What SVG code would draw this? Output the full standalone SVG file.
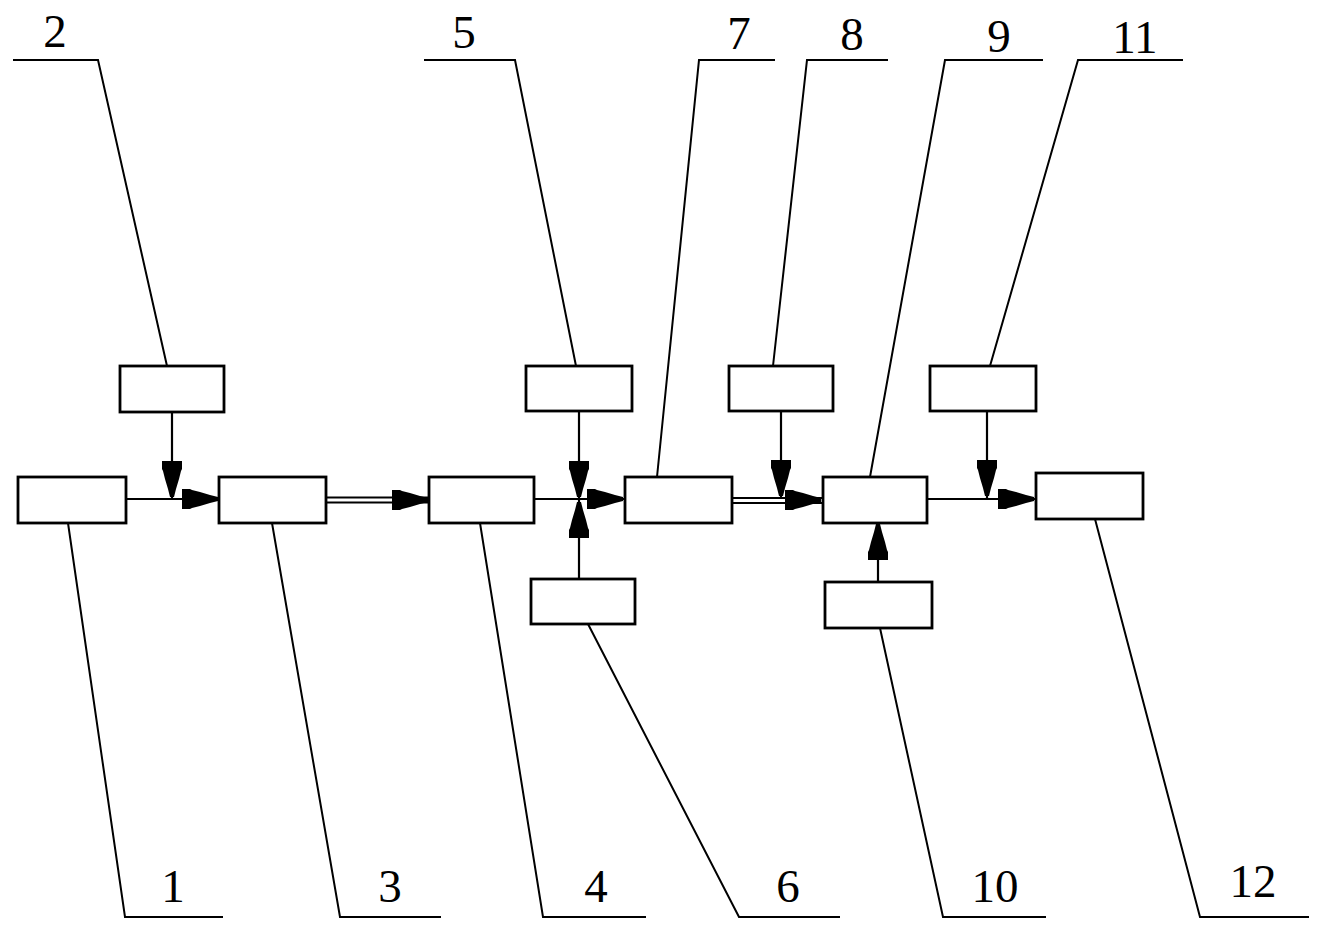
<svg xmlns="http://www.w3.org/2000/svg" xmlns:xlink="http://www.w3.org/1999/xlink" width="1320" height="928" viewBox="0 0 1320 928">
<style>
.box{fill:#fff;stroke:#000;stroke-width:2.8}
.ln{fill:none;stroke:#000;stroke-width:2.2}
.ld{fill:none;stroke:#000;stroke-width:2}
.lbl{font-family:"Liberation Serif","DejaVu Serif",serif;font-size:47px;fill:#000;text-anchor:middle}
</style>
<defs>
<path id="ah" d="M0,-2 L-8,-4 L-18,-7 L-26,-9 L-28,-10 L-36,-10 L-36,10 L-28,10 L-26,9 L-18,7 L-8,4 L0,2 Z" fill="#000"/>
</defs>
<rect width="1320" height="928" fill="#fff"/>
<g id="connectors">
<line class="ln" x1="126" y1="499" x2="219" y2="499"/>
<line class="ln" x1="172" y1="412" x2="172" y2="499"/>
<line class="ln" x1="326" y1="497.5" x2="429" y2="497.5"/>
<line class="ln" x1="326" y1="502.5" x2="429" y2="502.5"/>
<line class="ln" x1="534" y1="499" x2="625" y2="499"/>
<line class="ln" x1="579" y1="411" x2="579" y2="579"/>
<line class="ln" x1="732" y1="498" x2="823" y2="498"/>
<line class="ln" x1="732" y1="503" x2="823" y2="503"/>
<line class="ln" x1="781" y1="411" x2="781" y2="498"/>
<line class="ln" x1="927" y1="499" x2="1036" y2="499"/>
<line class="ln" x1="987" y1="411" x2="987" y2="499"/>
<line class="ln" x1="878" y1="582" x2="878" y2="523"/>
<use xlink:href="#ah" transform="translate(218,499)"/>
<use xlink:href="#ah" transform="translate(172,497) rotate(90)"/>
<use xlink:href="#ah" transform="translate(428,500)"/>
<use xlink:href="#ah" transform="translate(623,499)"/>
<use xlink:href="#ah" transform="translate(579,497) rotate(90)"/>
<use xlink:href="#ah" transform="translate(579,502) rotate(-90)"/>
<use xlink:href="#ah" transform="translate(821,500)"/>
<use xlink:href="#ah" transform="translate(781,496) rotate(90)"/>
<use xlink:href="#ah" transform="translate(1034,499)"/>
<use xlink:href="#ah" transform="translate(987,496) rotate(90)"/>
<use xlink:href="#ah" transform="translate(878,524) rotate(-90)"/>
</g>
<g id="n1"><rect class="box" x="18" y="477" width="108" height="46"/><polyline class="ld" points="68,523 125,917 223,917"/><text class="lbl" x="173" y="902">1</text></g>
<g id="n2"><rect class="box" x="120" y="366" width="104" height="46"/><polyline class="ld" points="167,366 98,60 13,60"/><text class="lbl" x="55" y="47">2</text></g>
<g id="n3"><rect class="box" x="219" y="477" width="107" height="46"/><polyline class="ld" points="272,523 340,917 441,917"/><text class="lbl" x="390" y="902">3</text></g>
<g id="n4"><rect class="box" x="429" y="477" width="105" height="46"/><polyline class="ld" points="480,523 543,917 646,917"/><text class="lbl" x="596" y="902">4</text></g>
<g id="n5"><rect class="box" x="526" y="366" width="106" height="45"/><polyline class="ld" points="576,366 515,60 424,60"/><text class="lbl" x="464" y="48">5</text></g>
<g id="n6"><rect class="box" x="531" y="579" width="104" height="45"/><polyline class="ld" points="588,624 739,917 840,917"/><text class="lbl" x="788" y="902">6</text></g>
<g id="n7"><rect class="box" x="625" y="477" width="107" height="46"/><polyline class="ld" points="657,477 699,60 775,60"/><text class="lbl" x="739" y="49">7</text></g>
<g id="n8"><rect class="box" x="729" y="366" width="104" height="45"/><polyline class="ld" points="773,366 807,60 888,60"/><text class="lbl" x="852" y="50">8</text></g>
<g id="n9"><rect class="box" x="823" y="477" width="104" height="46"/><polyline class="ld" points="870,477 945,60 1043,60"/><text class="lbl" x="999" y="52">9</text></g>
<g id="n10"><rect class="box" x="825" y="582" width="107" height="46"/><polyline class="ld" points="880,628 943,917 1046,917"/><text class="lbl" x="995" y="902">10</text></g>
<g id="n11"><rect class="box" x="930" y="366" width="106" height="45"/><polyline class="ld" points="990,366 1078,60 1183,60"/><text class="lbl" x="1135" y="53">11</text></g>
<g id="n12"><rect class="box" x="1036" y="473" width="107" height="46"/><polyline class="ld" points="1095,519 1200,917 1309,917"/><text class="lbl" x="1253" y="897">12</text></g>
</svg>
